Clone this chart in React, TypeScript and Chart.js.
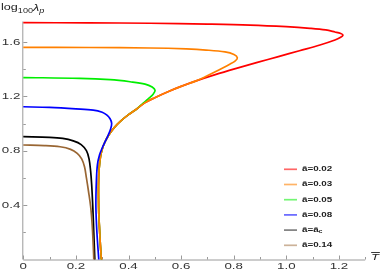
import React, { useEffect, useRef } from "react";
import { Chart, registerables } from "chart.js";

Chart.register(...registerables);

// ---- data (T-bar, log_100 lambda_p) ----
const redT = [0, 0.25, 0.482, 0.7, 0.862, 1.0, 1.09, 1.15, 1.185, 1.207, 1.2156, 1.205, 1.185, 1.128, 1.05, 0.97, 0.89, 0.81, 0.73];
const redLog = [1.741, 1.740, 1.737, 1.731, 1.724, 1.712, 1.700, 1.688, 1.673, 1.662, 1.650, 1.632, 1.614, 1.577, 1.535, 1.492, 1.449, 1.405, 1.359];

const orangeT = [0, 0.25, 0.482, 0.62, 0.695, 0.767, 0.801, 0.814, 0.805, 0.785, 0.76, 0.73, 0.69];
const orangeLog = [1.560, 1.559, 1.555, 1.548, 1.540, 1.526, 1.507, 1.482, 1.458, 1.436, 1.41, 1.38, 1.342];

const greenT = [0, 0.215, 0.33, 0.406, 0.463, 0.49, 0.501, 0.493, 0.474, 0.456];
const greenLog = [1.338, 1.332, 1.322, 1.307, 1.290, 1.268, 1.243, 1.213, 1.180, 1.150];

// shared lower (large) branch of the three smallest a-bar curves
const branchT = [0.66, 0.60, 0.55, 0.50, 0.46, 0.43, 0.40, 0.37, 0.345, 0.325, 0.31, 0.30, 0.293, 0.288, 0.286, 0.286, 0.287, 0.29, 0.293, 0.297];
const branchLog = [1.315, 1.273, 1.234, 1.190, 1.150, 1.105, 1.065, 1.017, 0.968, 0.915, 0.862, 0.81, 0.75, 0.66, 0.56, 0.45, 0.34, 0.22, 0.11, 0];

const blueT = [0, 0.1, 0.2, 0.266, 0.3, 0.317, 0.33, 0.336, 0.332, 0.323, 0.312, 0.302, 0.29, 0.282, 0.278, 0.276, 0.28, 0.287];
const blueLog = [1.123, 1.118, 1.108, 1.099, 1.083, 1.063, 1.035, 1.001, 0.96, 0.915, 0.87, 0.829, 0.77, 0.70, 0.585, 0.39, 0.195, 0];

const blackT = [0, 0.1, 0.15, 0.19, 0.22, 0.24, 0.25, 0.256, 0.26, 0.264, 0.268, 0.272];
const blackLog = [0.903, 0.898, 0.89, 0.872, 0.845, 0.80, 0.74, 0.65, 0.55, 0.40, 0.20, 0];

const brownT = [0, 0.08, 0.14, 0.18, 0.205, 0.222, 0.233, 0.24, 0.248, 0.256, 0.262, 0.266, 0.268];
const brownLog = [0.842, 0.838, 0.829, 0.81, 0.78, 0.74, 0.68, 0.60, 0.50, 0.39, 0.25, 0.10, 0];

const seriesLabels = ["ā=0.02", "ā=0.03", "ā=0.05", "ā=0.08", "ā=ā_c", "ā=0.14"];
const seriesColors = ["#ff0000", "#ff8000", "#00ee00", "#0000ff", "#000000", "#996633"];
const legendColors = ["rgba(255,0,0,0.6)", "rgba(255,128,0,0.6)", "rgba(0,238,0,0.55)", "rgba(0,0,255,0.6)", "rgba(0,0,0,0.5)", "rgba(153,102,51,0.5)"];

const xMajorTicks = [0, 0.2, 0.4, 0.6, 0.8, 1.0, 1.2];
const xTickLabels = ["0", "0.2", "0.4", "0.6", "0.8", "1.0", "1.2"];
const xMinorTicks = [0.1, 0.3, 0.5, 0.7, 0.9, 1.1, 1.3];
const yMajorTicks = [0.4, 0.8, 1.2, 1.6];
const yTickLabels = ["0.4", "0.8", "1.2", "1.6"];
const yMinorTicks = [0.2, 0.6, 1.0, 1.4];

const X_MAX = 1.3;
const Y_MAX = 1.75;

function pts(t: number[], l: number[]) {
  return t.map((v, i) => ({ x: v, y: l[i] }));
}

const SX = 1.4; // horizontal stretch of the reference's text

function drawText(
  ctx: CanvasRenderingContext2D,
  s: string,
  x: number,
  y: number,
  font: string,
  align: "left" | "right" | "center",
  color: string
) {
  ctx.save();
  ctx.font = font;
  ctx.fillStyle = color;
  ctx.textBaseline = "middle";
  const w = ctx.measureText(s).width * SX;
  const x0 = align === "left" ? x : align === "right" ? x - w : x - w / 2;
  ctx.translate(x0, y);
  ctx.scale(SX, 1);
  ctx.textAlign = "left";
  ctx.fillText(s, 0, 0);
  ctx.restore();
  return w;
}

const axesPlugin = {
  id: "mmaAxes",
  beforeDatasetsDraw(chart: any) {
    const ctx: CanvasRenderingContext2D = chart.ctx;
    const xs = chart.scales.x;
    const ys = chart.scales.y;
    const x0 = xs.getPixelForValue(0);
    const y0 = ys.getPixelForValue(0);
    ctx.save();
    ctx.strokeStyle = "#9a9a9a";
    ctx.lineWidth = 1;
    ctx.beginPath();
    ctx.moveTo(x0, y0 + 0.5);
    ctx.lineTo(xs.getPixelForValue(X_MAX), y0 + 0.5);
    ctx.moveTo(x0 - 0.5, y0);
    ctx.lineTo(x0 - 0.5, ys.getPixelForValue(Y_MAX));
    xMajorTicks.forEach((v) => {
      const p = Math.round(xs.getPixelForValue(v)) + 0.5;
      ctx.moveTo(p, y0);
      ctx.lineTo(p, y0 - 4);
    });
    xMinorTicks.forEach((v) => {
      const p = Math.round(xs.getPixelForValue(v)) + 0.5;
      ctx.moveTo(p, y0);
      ctx.lineTo(p, y0 - 2.5);
    });
    yMajorTicks.forEach((v) => {
      const p = Math.round(ys.getPixelForValue(v)) + 0.5;
      ctx.moveTo(x0, p);
      ctx.lineTo(x0 + 4, p);
    });
    yMinorTicks.forEach((v) => {
      const p = Math.round(ys.getPixelForValue(v)) + 0.5;
      ctx.moveTo(x0, p);
      ctx.lineTo(x0 + 2.5, p);
    });
    ctx.stroke();
    ctx.restore();
  },
  afterDraw(chart: any) {
    const ctx: CanvasRenderingContext2D = chart.ctx;
    const xs = chart.scales.x;
    const ys = chart.scales.y;
    const x0 = xs.getPixelForValue(0);
    const y0 = ys.getPixelForValue(0);
    const tickFont = "9.5px 'Liberation Sans', Arial, sans-serif";
    const labelColor = "#333";
    xMajorTicks.forEach((v, i) => {
      drawText(ctx, xTickLabels[i], xs.getPixelForValue(v), y0 + 7, tickFont, "center", labelColor);
    });
    yMajorTicks.forEach((v, i) => {
      drawText(ctx, yTickLabels[i], x0 - 3, ys.getPixelForValue(v), tickFont, "right", labelColor);
    });
    // y-axis title: log_100 lambda_p
    let cx = 1;
    cx += drawText(ctx, "log", cx, 8, "9px 'Liberation Sans', Arial, sans-serif", "left", "#222");
    cx += drawText(ctx, "100", cx, 11, "6.5px 'Liberation Sans', Arial, sans-serif", "left", "#222");
    cx += drawText(ctx, "λ", cx, 8, "italic 9px 'Liberation Sans', Arial, sans-serif", "left", "#222");
    drawText(ctx, "p", cx, 11, "italic 6.5px 'Liberation Sans', Arial, sans-serif", "left", "#222");
    // x-axis title: T-bar
    const tx = 375;
    const tw = drawText(ctx, "T", tx, 257.5, "italic 9px 'Liberation Sans', Arial, sans-serif", "center", "#222");
    ctx.save();
    ctx.strokeStyle = "#222";
    ctx.lineWidth = 0.9;
    ctx.beginPath();
    ctx.moveTo(tx - tw / 2, 252.5);
    ctx.lineTo(tx + tw / 2 + 1, 252.5);
    ctx.stroke();
    ctx.restore();
    // legend
    const legFont = "bold 7px 'Liberation Sans', Arial, sans-serif";
    seriesLabels.forEach((lab, i) => {
      const y = 169.3 + i * 15.2;
      ctx.save();
      ctx.strokeStyle = legendColors[i];
      ctx.lineWidth = 1.7;
      ctx.beginPath();
      ctx.moveTo(284, y);
      ctx.lineTo(297, y);
      ctx.stroke();
      ctx.restore();
      const parts = lab.split("_");
      const w = drawText(ctx, parts[0], 302, y, legFont, "left", "#222");
      if (parts[1]) {
        drawText(ctx, parts[1], 302 + w, y + 2, "bold 5px 'Liberation Sans', Arial, sans-serif", "left", "#222");
      }
    });
  },
};

export default function App() {
  const ref = useRef<HTMLCanvasElement | null>(null);
  useEffect(() => {
    if (!ref.current) return;
    const mk = (i: number, data: { x: number; y: number }[], order: number) => ({
      label: seriesLabels[i],
      data,
      borderColor: seriesColors[i],
      backgroundColor: seriesColors[i],
      borderWidth: 1.7,
      showLine: true,
      pointRadius: 0,
      tension: 0.35,
      fill: false,
      clip: 6,
      order,
    });
    const gStart = branchT.indexOf(0.43);
    const chart = new Chart(ref.current, {
      type: "scatter",
      data: {
        datasets: [
          mk(0, pts(redT.concat(branchT), redLog.concat(branchLog)), 6),
          mk(2, pts(greenT.concat(branchT.slice(gStart)), greenLog.concat(branchLog.slice(gStart))), 5),
          mk(1, pts(orangeT.concat(branchT), orangeLog.concat(branchLog)), 4),
          mk(3, pts(blueT, blueLog), 3),
          mk(4, pts(blackT, blackLog), 2),
          mk(5, pts(brownT, brownLog), 1),
        ],
      },
      options: {
        animation: false,
        responsive: false,
        devicePixelRatio: 1,
        layout: {
          padding: {
            left: 23.3,
            right: 382 - (23.3 + X_MAX * 263),
            top: 259.5 - Y_MAX * 136,
            bottom: 273 - 259.5,
          },
        },
        scales: {
          x: { type: "linear", min: 0, max: X_MAX, display: false },
          y: { type: "linear", min: 0, max: Y_MAX, display: false },
        },
        plugins: {
          legend: { display: false },
          tooltip: { enabled: false },
        },
      },
      plugins: [axesPlugin],
    });
    return () => chart.destroy();
  }, []);
  return (
    <div style={{ position: "absolute", left: 0, top: 0, width: 382, height: 273, background: "#fff" }}>
      <canvas ref={ref} width={382} height={273} />
    </div>
  );
}
